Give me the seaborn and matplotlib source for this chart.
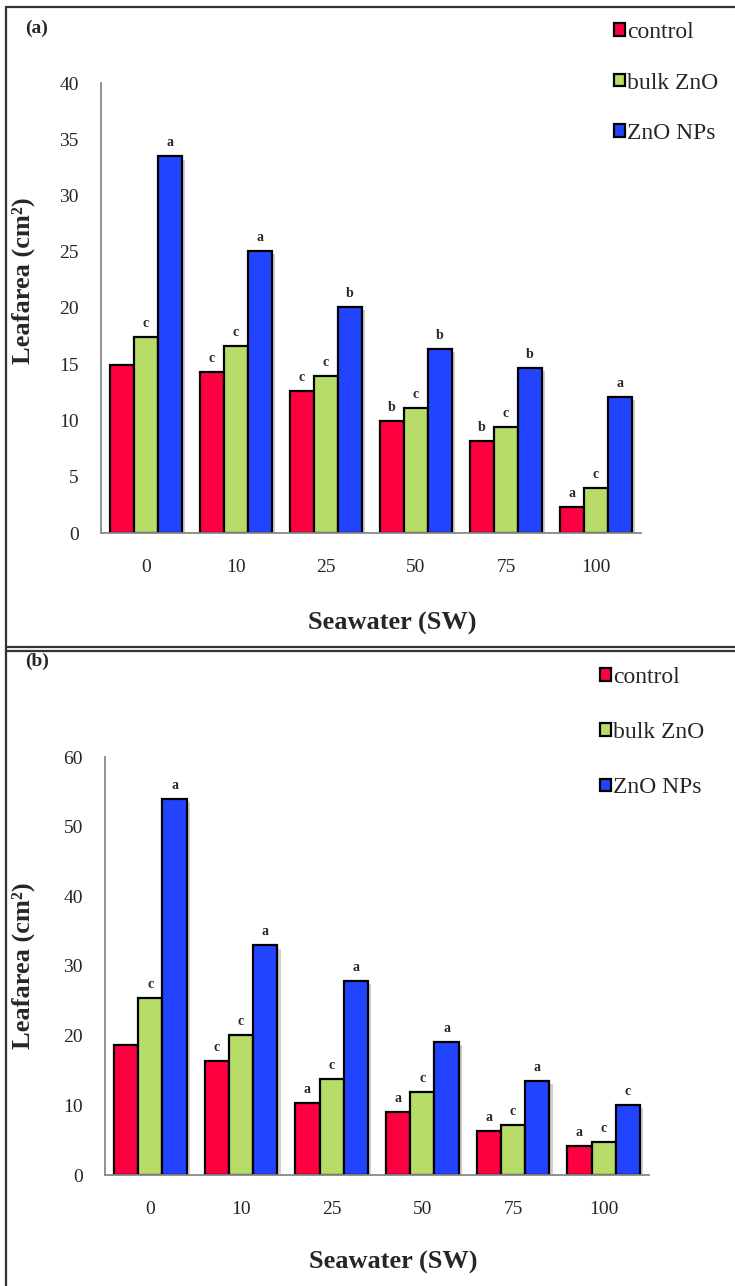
import pandas as pd
import numpy as np
import matplotlib.pyplot as plt
import matplotlib.patheffects as pe
from matplotlib.lines import Line2D
import seaborn as sns

# 数据
sw_levels = ['0', '10', '25', '50', '75', '100']
treatments = ['control', 'bulk ZnO', 'ZnO NPs']

a_control = [14.9, 14.3, 12.6, 10.0, 8.2, 2.3]
a_bulk = [17.4, 16.6, 14.0, 11.1, 9.4, 4.0]
a_nps = [33.5, 25.1, 20.1, 16.4, 14.7, 12.1]
a_letters_control = ['', 'c', 'c', 'b', 'b', 'a']
a_letters_bulk = ['c', 'c', 'c', 'c', 'c', 'c']
a_letters_nps = ['a', 'a', 'b', 'b', 'b', 'a']

b_control = [18.6, 16.3, 10.3, 9.1, 6.3, 4.1]
b_bulk = [25.4, 20.1, 13.8, 11.9, 7.2, 4.7]
b_nps = [54.0, 33.0, 27.9, 19.1, 13.5, 10.1]
b_letters_control = ['', 'c', 'a', 'a', 'a', 'a']
b_letters_bulk = ['c', 'c', 'c', 'c', 'c', 'c']
b_letters_nps = ['a', 'a', 'a', 'a', 'a', 'c']

colors = ['#FF0040', '#B8DC68', '#2244FF']

sns.set_style("white")
plt.rcParams['font.family'] = ['Liberation Serif', 'DejaVu Serif']

W, H = 735, 1286
fig = plt.figure(figsize=(W / 100, H / 100), dpi=100)


def fx(px):
    return px / W


def fy(py):
    return 1 - py / H


def make_df(control, bulk, nps):
    rows = []
    for name, vals in zip(treatments, [control, bulk, nps]):
        for sw, v in zip(sw_levels, vals):
            rows.append({'SW': sw, 'treatment': name, 'area': v})
    return pd.DataFrame(rows)


def draw_panel(rect, df, letters, ymax, ystep, ylab_xy, xlab_xy, tag, tag_y, leg_xy, leg_space):
    ax = fig.add_axes(rect)
    sns.barplot(data=df, x='SW', y='area', hue='treatment', order=sw_levels,
                hue_order=treatments, palette=colors, saturation=1, edgecolor='black',
                linewidth=1.6, width=0.8, ax=ax)
    handles, labels = ax.get_legend_handles_labels()
    ax.legend_.remove()

    shadow = [pe.SimplePatchShadow(offset=(2.5, -2.5), shadow_rgbFace='#777777', alpha=0.35), pe.Normal()]
    for cont, lets in zip(ax.containers, letters):
        for bar, let in zip(cont, lets):
            bar.set_path_effects(shadow)
            if let:
                ax.annotate(let, (bar.get_x() + bar.get_width() / 2, bar.get_height()),
                            xytext=(0, 5), textcoords='offset points', ha='center',
                            va='bottom', fontsize=10, fontweight='bold')

    ax.set_ylim(0, ymax)
    ax.set_yticks(np.arange(0, ymax + 1, ystep))
    ax.set_xlim(-0.5, len(sw_levels) - 0.5)
    ax.set_xticks(np.arange(len(sw_levels)))
    ax.set_xticklabels(sw_levels)
    ax.set_xticks(np.arange(-0.5, len(sw_levels)), minor=True)
    ax.tick_params(axis='x', which='major', length=0, pad=19, labelsize=14)
    ax.tick_params(axis='x', which='minor', length=6, width=1.2, color='#888888', direction='out')
    ax.tick_params(axis='y', length=5, width=1.2, color='#888888', pad=11, labelsize=14, direction='out')
    for s in ['top', 'right']:
        ax.spines[s].set_visible(False)
    for s in ['left', 'bottom']:
        ax.spines[s].set_color('#888888')
        ax.spines[s].set_linewidth(1.3)

    ax.set_ylabel('Leafarea (cm²)', fontsize=19, fontweight='bold')
    ax.yaxis.set_label_coords(*ylab_xy)
    ax.set_xlabel('Seawater (SW)', fontsize=19, fontweight='bold')
    ax.xaxis.set_label_coords(*xlab_xy)

    fig.text(fx(25), fy(tag_y), tag, fontsize=14, fontweight='bold', va='center', ha='left')
    fig.legend(handles, labels, loc='upper left', bbox_to_anchor=leg_xy, frameon=False,
               fontsize=17, handlelength=0.45, handleheight=0.45, handletextpad=0.1,
               labelspacing=leg_space, borderpad=0, borderaxespad=0)
    return ax


# (a)
df_a = make_df(a_control, a_bulk, a_nps)
draw_panel([fx(101), fy(533), fx(641) - fx(101), fy(83) - fy(533)], df_a,
           [a_letters_control, a_letters_bulk, a_letters_nps], 40, 5,
           (-0.122, 0.56), (0.54, -0.175), '(a)', 28, (fx(614), fy(22)), 1.25)

# (b)
df_b = make_df(b_control, b_bulk, b_nps)
draw_panel([fx(105), fy(1175), fx(649) - fx(105), fy(757) - fy(1175)], df_b,
           [b_letters_control, b_letters_bulk, b_letters_nps], 60, 10,
           (-0.129, 0.5), (0.53, -0.182), '(b)', 661, (fx(600), fy(667)), 1.45)

# 外框线
frame = dict(color='#333333', linewidth=1.6, transform=fig.transFigure)
fig.add_artist(Line2D([fx(6), fx(6)], [fy(7), 0], **frame))
fig.add_artist(Line2D([fx(6), 1], [fy(7), fy(7)], **frame))
fig.add_artist(Line2D([fx(6), 1], [fy(647), fy(647)], **frame))
fig.add_artist(Line2D([fx(6), 1], [fy(650.5), fy(650.5)], **frame))

plt.savefig("out.png", dpi=100)
